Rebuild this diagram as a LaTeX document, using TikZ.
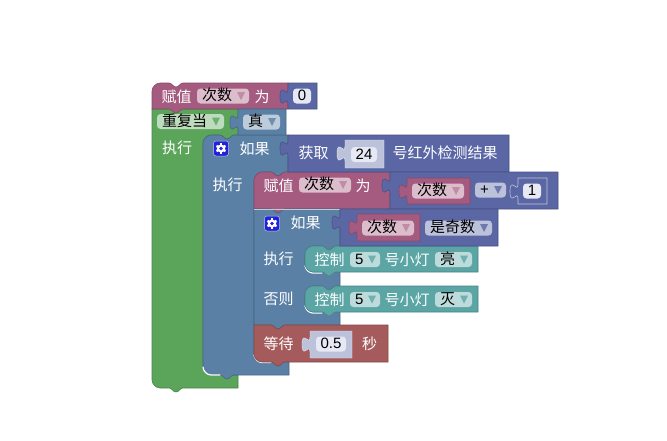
\documentclass[tikz,border=0pt]{standalone}
\usepackage{fontspec}
\setmainfont{Noto Sans CJK SC}
\newfontfamily\latn{Liberation Sans}
\definecolor{pinkblk}{HTML}{A55B80}
\definecolor{pinkedge}{HTML}{844966}
\definecolor{pinkfld}{HTML}{DBBDCC}
\definecolor{pinkarr}{HTML}{C08CA6}
\definecolor{blueblk}{HTML}{5B80A5}
\definecolor{blueedge}{HTML}{496684}
\definecolor{bluefld}{HTML}{BDCCDB}
\definecolor{bluearr}{HTML}{6E8FB0}
\definecolor{greenblk}{HTML}{5BA55B}
\definecolor{greenedge}{HTML}{498449}
\definecolor{greenfld}{HTML}{BDDBBD}
\definecolor{greenarr}{HTML}{6FB06F}
\definecolor{purpblk}{HTML}{5B67A5}
\definecolor{purpedge}{HTML}{495284}
\definecolor{purpfld}{HTML}{BDC2DB}
\definecolor{purparr}{HTML}{6E79B0}
\definecolor{tealblk}{HTML}{5BA5A5}
\definecolor{tealedge}{HTML}{498484}
\definecolor{tealfld}{HTML}{BDDBDB}
\definecolor{tealarr}{HTML}{6FB0B0}
\definecolor{redblk}{HTML}{A55B5B}
\definecolor{rededge}{HTML}{844949}
\definecolor{numfld}{HTML}{E6E8F3}
\definecolor{gearblue}{HTML}{2222DD}
% notch going right, notch going left, value socket going up
\newcommand{\notchr}[2]{-- (#1+17,#2) .. controls (#1+20,#2) and (#1+21,#2+4) .. (#1+24,#2+4) .. controls (#1+27,#2+4) and (#1+28,#2) .. (#1+31,#2)}
\newcommand{\notchl}[2]{-- (#1+31,#2) .. controls (#1+28,#2) and (#1+27,#2+4) .. (#1+24,#2+4) .. controls (#1+21,#2+4) and (#1+20,#2) .. (#1+17,#2)}
\newcommand{\sock}[2]{-- (#1,#2+15) .. controls (#1,#2+5) and (#1-8,#2+23) .. (#1-8,#2+7.5) .. controls (#1-8,#2-8) and (#1,#2+10) .. (#1,#2)}
% value block: left, right, top, bottom, style
\newcommand{\valblk}[5]{\draw[#5] (#1,#3) -- (#2,#3) -- (#2,#4) -- (#1,#4) \sock{#1}{#3+6} -- cycle;}
% dropdown field: name, left, right, y, text, fill, arrow
\newcommand{\ddfield}[7]{
  \node[fld, fill=#6, minimum width={(#3-#2)*1pt}, text width={(#3-#2-10)*1pt}] (#1) at ({(#2+#3)/2},#4) {#5};
  \fill[#7] (#3-12,#4-4) -- (#3-4,#4-4) -- (#3-8,#4+4) -- cycle;}
% number field: name, left, right, y, text
\newcommand{\numfield}[5]{
  \node[fld, fill=numfld, align=center, minimum width={(#3-#2)*1pt}, text width={(#3-#2-4)*1pt}, inner xsep=2pt] (#1) at ({(#2+#3)/2},#4) {\latn #5};}
% gear icon: name, centre x, centre y
\newcommand{\gearicon}[3]{
  \node[draw=purpfld, fill=gearblue, rounded corners=2.5pt, minimum size=15pt, inner sep=0pt, line width=.5pt] (#1) at (#2,#3) {};
  \foreach \a in {0,60,...,300} {\fill[white,rotate around={\a:(#2,#3)}] (#2-1.2,#3-5.2) rectangle (#2+1.2,#3);}
  \fill[white] (#2,#3) circle (4);
  \fill[gearblue] (#2,#3) circle (1.9);}
\tikzset{
  fld/.style={rounded corners=3.5pt, inner xsep=4.500pt, inner ysep=1pt, text height=11.2pt, text depth=1.8pt, align=left, text=black, font=\fontsize{15}{17}\selectfont},
  lbl/.style={text=white, inner sep=0pt, yshift=-.8pt, font=\fontsize{15}{17}\selectfont},
  pinkblock/.style={fill=pinkblk, draw=pinkedge, line width=.6pt},
  blueblock/.style={fill=blueblk, draw=blueedge, line width=.6pt},
  greenblock/.style={fill=greenblk, draw=greenedge, line width=.6pt},
  purpblock/.style={fill=purpblk, draw=purpedge, line width=.6pt},
  tealblock/.style={fill=tealblk, draw=tealedge, line width=.6pt},
  redblock/.style={fill=redblk, draw=rededge, line width=.6pt},
  shadowblock/.style={fill=purpfld, draw=purpfld!40, line width=.4pt},
  lightline/.style={draw=white, line width=1.2pt, line cap=round}
}
\begin{document}
\begin{tikzpicture}[x=1pt,y=-1pt]
  \useasboundingbox (0,0) rectangle (667,440);
  % repeat loop
  \draw[greenblock] (152,109) -- (238,109) -- (238,135) \notchl{203}{135} -- (211,135) .. controls (207,135) and (203,139) .. (203,143)
    -- (203,367) .. controls (203,371) and (207,375) .. (211,375) -- (238,375) -- (238,388) \notchl{152}{388} -- (160,388)
    .. controls (156,388) and (152,384) .. (152,380) -- cycle;
  % first assign
  \draw[pinkblock] (152,91) .. controls (152,87) and (156,83) .. (160,83) \notchr{152}{83} -- (288,83) -- (288,109) \notchl{152}{109} -- (152,109) -- cycle;
  % outer if
  \draw[blueblock] (203,143) .. controls (203,139) and (207,135) .. (211,135) \notchr{203}{135} -- (288,135) -- (288,172) \notchl{254}{172} -- (262,172)
    .. controls (258,172) and (254,176) .. (254,180) -- (254,354) .. controls (254,358) and (258,362) .. (262,362) -- (289,362) -- (289,375)
    \notchl{203}{375} -- (211,375) .. controls (207,375) and (203,371) .. (203,367) -- cycle;
  \draw[lightline] (203,367) .. controls (203,371) and (207,375) .. (211,375) -- (220,375);
  % second assign
  \draw[pinkblock] (254,180) .. controls (254,176) and (258,172) .. (262,172) \notchr{254}{172} -- (390,172) -- (390,209) \notchl{254}{209} -- (254,209) -- cycle;
  % inner if
  \draw[blueblock] (254,209) \notchr{254}{209} -- (340,209) -- (340,246) \notchl{305}{246} -- (313,246) .. controls (309,246) and (305,250) .. (305,254)
    -- (305,264) .. controls (305,268) and (309,272) .. (313,272) -- (340,272) -- (340,286) \notchl{305}{286} -- (313,286)
    .. controls (309,286) and (305,290) .. (305,294) -- (305,304) .. controls (305,308) and (309,312) .. (313,312) -- (340,312) -- (340,325)
    \notchl{254}{325} -- (254,325) -- cycle;
  \draw[draw=bluefld, line width=.5pt] (254,209) -- (340,209);
  \draw[lightline] (305,266) .. controls (306,270) and (309,273) .. (313,273) -- (322,273);
  \draw[lightline] (305,306) .. controls (306,310) and (309,313) .. (313,313) -- (322,313);
  % lamp blocks
  \draw[tealblock] (305,254) .. controls (305,250) and (309,246) .. (313,246) \notchr{305}{246} -- (478,246) -- (478,272) \notchl{305}{272} -- (313,272)
    .. controls (309,272) and (305,268) .. (305,264) -- cycle;
  \draw[tealblock] (305,294) .. controls (305,290) and (309,286) .. (313,286) \notchr{305}{286} -- (478,286) -- (478,312) \notchl{305}{312} -- (313,312)
    .. controls (309,312) and (305,308) .. (305,304) -- cycle;
  % wait block
  \draw[lightline] (254,355) .. controls (255,359) and (258,362.500) .. (262,362.500) -- (271,362.500);
  \draw[redblock] (254,325) \notchr{254}{325} -- (388,325) -- (388,362) \notchl{254}{362} -- (262,362) .. controls (258,362) and (254,358) .. (254,354) -- cycle;
  % value blocks
  \valblk{288}{317}{83}{109}{purpblock}
  \valblk{238}{286}{109}{135}{blueblock}
  \valblk{288}{509}{135}{172}{purpblock}
  \valblk{345}{384}{140}{168}{shadowblock}
  \valblk{390}{558}{172}{209}{purpblock}
  \valblk{407}{470}{178}{204}{pinkblock}
  \valblk{518}{547}{178}{204}{purpblock,draw=purpfld}
  \valblk{340}{498}{209}{246}{purpblock}
  \valblk{357}{420}{214}{241}{pinkblock}
  \valblk{310}{352}{331}{358}{shadowblock}
  % labels and fields
  \node[lbl] (setA) at (176.500,96) {赋值};
  \ddfield{varA}{197}{249}{96}{次数}{pinkfld}{pinkarr}
  \node[lbl] (toA) at (262,96) {为};
  \numfield{zero}{293}{311}{96}{0}
  \ddfield{whileF}{157}{224}{121.500}{重复当}{greenfld}{greenarr}
  \ddfield{trueF}{243}{280}{122}{真}{bluefld}{bluearr}
  \node[lbl] (doA) at (177,147) {执行};
  \gearicon{gearA}{221}{148.500}
  \node[lbl] (ifA) at (254.500,148) {如果};
  \node[lbl] (getA) at (313.500,152) {获取};
  \numfield{pin}{351}{377}{154.500}{24}
  \node[lbl] (irA) at (445,152) {号红外检测结果};
  \node[lbl] (doB) at (227.500,184) {执行};
  \node[lbl] (setB) at (278.500,185) {赋值};
  \ddfield{varB}{299}{351}{185}{次数}{pinkfld}{pinkarr}
  \node[lbl] (toB) at (363,185) {为};
  \ddfield{varC}{412}{464}{191}{次数}{pinkfld}{pinkarr}
  \ddfield{plus}{475}{506}{190}{\latn +}{purpfld}{purparr}
  \numfield{one}{523}{541}{191}{1}
  \gearicon{gearB}{272}{223.500}
  \node[lbl] (ifB) at (305.500,222) {如果};
  \ddfield{varD}{362}{414}{228}{次数}{pinkfld}{pinkarr}
  \ddfield{odd}{425}{492}{228}{是奇数}{purpfld}{purparr}
  \node[lbl] (doC) at (278.500,258) {执行};
  \node[lbl] (ctlA) at (329.500,259) {控制};
  \ddfield{lampA}{350}{380}{259.500}{\latn 5}{tealfld}{tealarr}
  \node[lbl] (numA) at (407,259) {号小灯};
  \ddfield{stateA}{435}{472}{259.500}{亮}{tealfld}{tealarr}
  \node[lbl] (elseA) at (278.500,298) {否则};
  \node[lbl] (ctlB) at (329.500,299) {控制};
  \ddfield{lampB}{350}{380}{299.500}{\latn 5}{tealfld}{tealarr}
  \node[lbl] (numB) at (407,299) {号小灯};
  \ddfield{stateB}{435}{472}{299.500}{灭}{tealfld}{tealarr}
  \node[lbl] (waitA) at (278.500,343) {等待};
  \numfield{delay}{316}{346}{344}{0.5}
  \node[lbl] (secA) at (369.500,343) {秒};
\end{tikzpicture}
\end{document}
